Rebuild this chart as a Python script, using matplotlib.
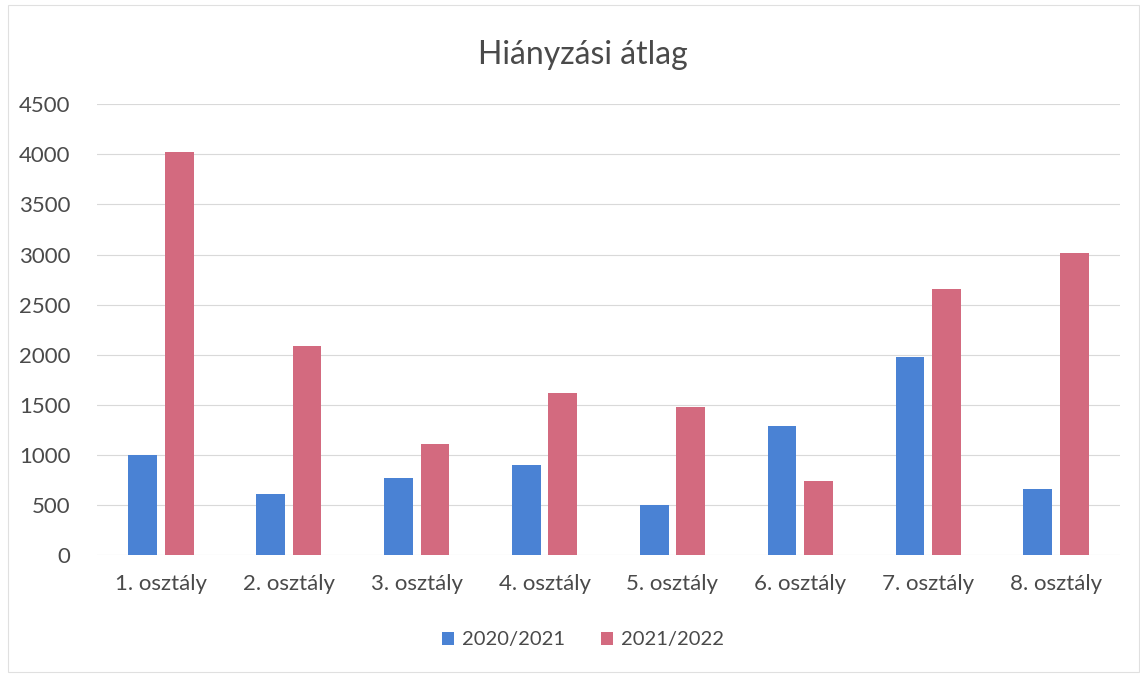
import matplotlib
matplotlib.use("Agg")
import matplotlib.pyplot as plt
import numpy as np

categories = ["1. osztály", "2. osztály", "3. osztály", "4. osztály",
              "5. osztály", "6. osztály", "7. osztály", "8. osztály"]
series_names = ["2020/2021", "2021/2022"]
values_2020 = [1000, 610, 770, 900, 500, 1290, 1980, 660]
values_2021 = [4020, 2085, 1105, 1620, 1480, 740, 2660, 3020]
yticks = [0, 500, 1000, 1500, 2000, 2500, 3000, 3500, 4000, 4500]
title = "Hiányzási átlag"

blue = "#4a82d4"
red = "#d36a7f"
text_col = "#4a4a4a"

plt.rcParams['font.family'] = ['Lato', 'DejaVu Sans']

fig = plt.figure(figsize=(11.4, 6.74), dpi=100)
ax = fig.add_axes([97/1140, 1 - 555/674, (1120-97)/1140, (555-104.3)/674])

x = np.arange(len(categories))
w = 0.225
gap = 0.06
ax.bar(x - (w + gap)/2, values_2020, width=w, color=blue, label=series_names[0], zorder=3)
ax.bar(x + (w + gap)/2, values_2021, width=w, color=red, label=series_names[1], zorder=3)

ax.set_xlim(-0.5, len(categories) - 0.5)
ax.set_ylim(0, 4500)
ax.set_yticks(yticks)
ax.set_yticklabels([str(v) for v in yticks], fontsize=16, color=text_col)
ax.set_xticks(x)
ax.set_xticklabels(categories, fontsize=16, color=text_col)
ax.tick_params(axis='both', length=0)
ax.tick_params(axis='y', pad=19)
ax.tick_params(axis='x', pad=14)
ax.grid(axis='y', color='#d9d9d9', linewidth=0.8, zorder=0)
for s in ax.spines.values():
    s.set_visible(False)

fig.text(583/1140, 1 - 55/674, title, ha='center', va='center', fontsize=23, color=text_col)

leg = fig.legend(*ax.get_legend_handles_labels(), loc='center',
                 bbox_to_anchor=(583/1140, 1 - 640/674), ncol=2, frameon=False,
                 fontsize=14.5, handlelength=0.6, handleheight=0.6, handletextpad=0.4,
                 columnspacing=1.8)
for t in leg.get_texts():
    t.set_color(text_col)

# faint outer frame of the chart
fig.patches.append(plt.Rectangle((8/1140, 0.003), 1 - 9/1140, 0.99, transform=fig.transFigure,
                                 fill=False, edgecolor='#e0e0e0', linewidth=0.8))

fig.savefig("out.png", dpi=100)
